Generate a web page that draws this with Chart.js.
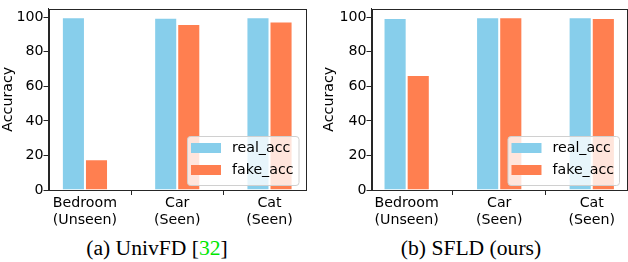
<!DOCTYPE html>
<html>
<head>
<meta charset="utf-8">
<script src="https://cdn.jsdelivr.net/npm/chart.js@4"></script>
<style>
  body { margin: 0; background: #fff; overflow: hidden; }
  .panel { position: absolute; top: 0; width: 314px; height: 262px; }
  .panel canvas { position: absolute; left: 0; top: 0; }
  .caption { position: absolute; left: 0; width: 314px; top: 236px; text-align: center;
             font-family: "Liberation Serif", "Times New Roman", serif; font-size: 21.6px; line-height: 24px; color: #000; }
  .cite { color: #00e600; }
</style>
</head>
<body>
<div class="panel" style="left:0">
  <canvas id="univfd" width="314" height="230"></canvas>
  <div class="caption">(a) UnivFD [<span class="cite">32</span>]</div>
</div>
<div class="panel" style="left:314px">
  <canvas id="sfld" width="314" height="230"></canvas>
  <div class="caption">(b) SFLD (ours)</div>
</div>
<script>
// data
const categories = [["Bedroom", "(Unseen)"], ["Car", "(Seen)"], ["Cat", "(Seen)"]];
const seriesNames = ["real_acc", "fake_acc"];
const univfdReal = [99.9, 99.7, 100];
const univfdFake = [17.8, 96.0, 97.5];
const sfldReal = [99.5, 100, 100];
const sfldFake = [66.6, 100, 99.5];
const yTicks = [0, 20, 40, 60, 80, 100];

const colors = ["#87CEEB", "#FF7F50"];
const font = { family: "DejaVu Sans", size: 14.2 };

// matplotlib-like frame + legend box drawn on top of the bars
const framePlugin = {
  id: "frame",
  afterDatasetsDraw(chart) {
    const ctx = chart.ctx, a = chart.chartArea;
    ctx.save();
    ctx.font = "14.2px 'DejaVu Sans'";
    let tw = 0;
    chart.data.datasets.forEach(d => { tw = Math.max(tw, ctx.measureText(d.label).width); });
    const w = 4 + 30 + 11 + tw + 5, h = 49;
    const x = a.right - 7 - w, y = a.bottom - 5 - h;
    ctx.beginPath();
    ctx.roundRect(x + 0.5, y + 0.5, w, h, 3);
    ctx.fillStyle = "rgba(255,255,255,0.8)";
    ctx.fill();
    ctx.strokeStyle = "#d0d0d0";
    ctx.lineWidth = 1;
    ctx.stroke();
    chart.data.datasets.forEach((d, i) => {
      const cy = y + 12 + i * 22;
      ctx.fillStyle = d.backgroundColor;
      ctx.fillRect(x + 4, cy - 5, 30, 10);
      ctx.fillStyle = "#000";
      ctx.textBaseline = "middle";
      ctx.fillText(d.label, x + 4 + 30 + 11, cy);
    });
    ctx.restore();
  },
  afterDraw(chart) {
    const ctx = chart.ctx, a = chart.chartArea;
    ctx.save();
    ctx.strokeStyle = "#262626";
    ctx.lineWidth = 1;
    ctx.strokeRect(Math.round(a.left) + 0.5, Math.round(a.top) + 0.5,
                   Math.round(a.right - a.left), Math.round(a.bottom - a.top));
    ctx.restore();
  }
};

function makeChart(id, real, fake, xMin, xMax, padLeft, yWidth, padRight) {
  const ctx = document.getElementById(id).getContext("2d");
  return new Chart(ctx, {
    type: "bar",
    data: {
      datasets: [
        { label: seriesNames[0], data: real.map((v, i) => ({ x: i, y: v })), backgroundColor: colors[0],
          borderColor: "rgba(255,255,255,0.5)", borderWidth: 1 },
        { label: seriesNames[1], data: fake.map((v, i) => ({ x: i, y: v })), backgroundColor: colors[1],
          borderColor: "rgba(255,255,255,0.5)", borderWidth: 1 }
      ]
    },
    options: {
      responsive: false,
      animation: false,
      layout: { padding: { top: 0.5, left: padLeft, right: padRight, bottom: 0 } },
      datasets: { bar: { categoryPercentage: 0.5, barPercentage: 1.0 } },
      plugins: { legend: { display: false }, tooltip: { enabled: false } },
      scales: {
        x: {
          type: "linear",
          min: xMin,
          max: xMax,
          offset: false,
          afterBuildTicks: s => { s.ticks = categories.map((c, i) => ({ value: i })); },
          afterFit: s => { s.height = 40; },
          grid: { drawOnChartArea: false, drawTicks: true, tickLength: 5, color: "#262626" },
          border: { display: true, color: "#262626" },
          ticks: { font: font, color: "#000", padding: 0, maxRotation: 0,
                   callback: v => categories[v] }
        },
        y: {
          min: 0,
          max: 105,
          afterBuildTicks: s => { s.ticks = yTicks.map(v => ({ value: v })); },
          afterFit: s => { s.width = yWidth; },
          grid: { drawOnChartArea: false, drawTicks: true, tickLength: 5, color: "#262626" },
          border: { display: true, color: "#262626" },
          ticks: { font: font, color: "#000", padding: 0 },
          title: { display: true, text: "Accuracy", font: font, color: "#000", padding: 0 }
        }
      }
    },
    plugins: [framePlugin]
  });
}

makeChart("univfd", univfdReal, univfdFake, -0.395, 2.39, 0, 48.5, 8.5);
makeChart("sfld", sfldReal, sfldFake, -0.38, 2.37, 7, 50.5, 2);
</script>
</body>
</html>
